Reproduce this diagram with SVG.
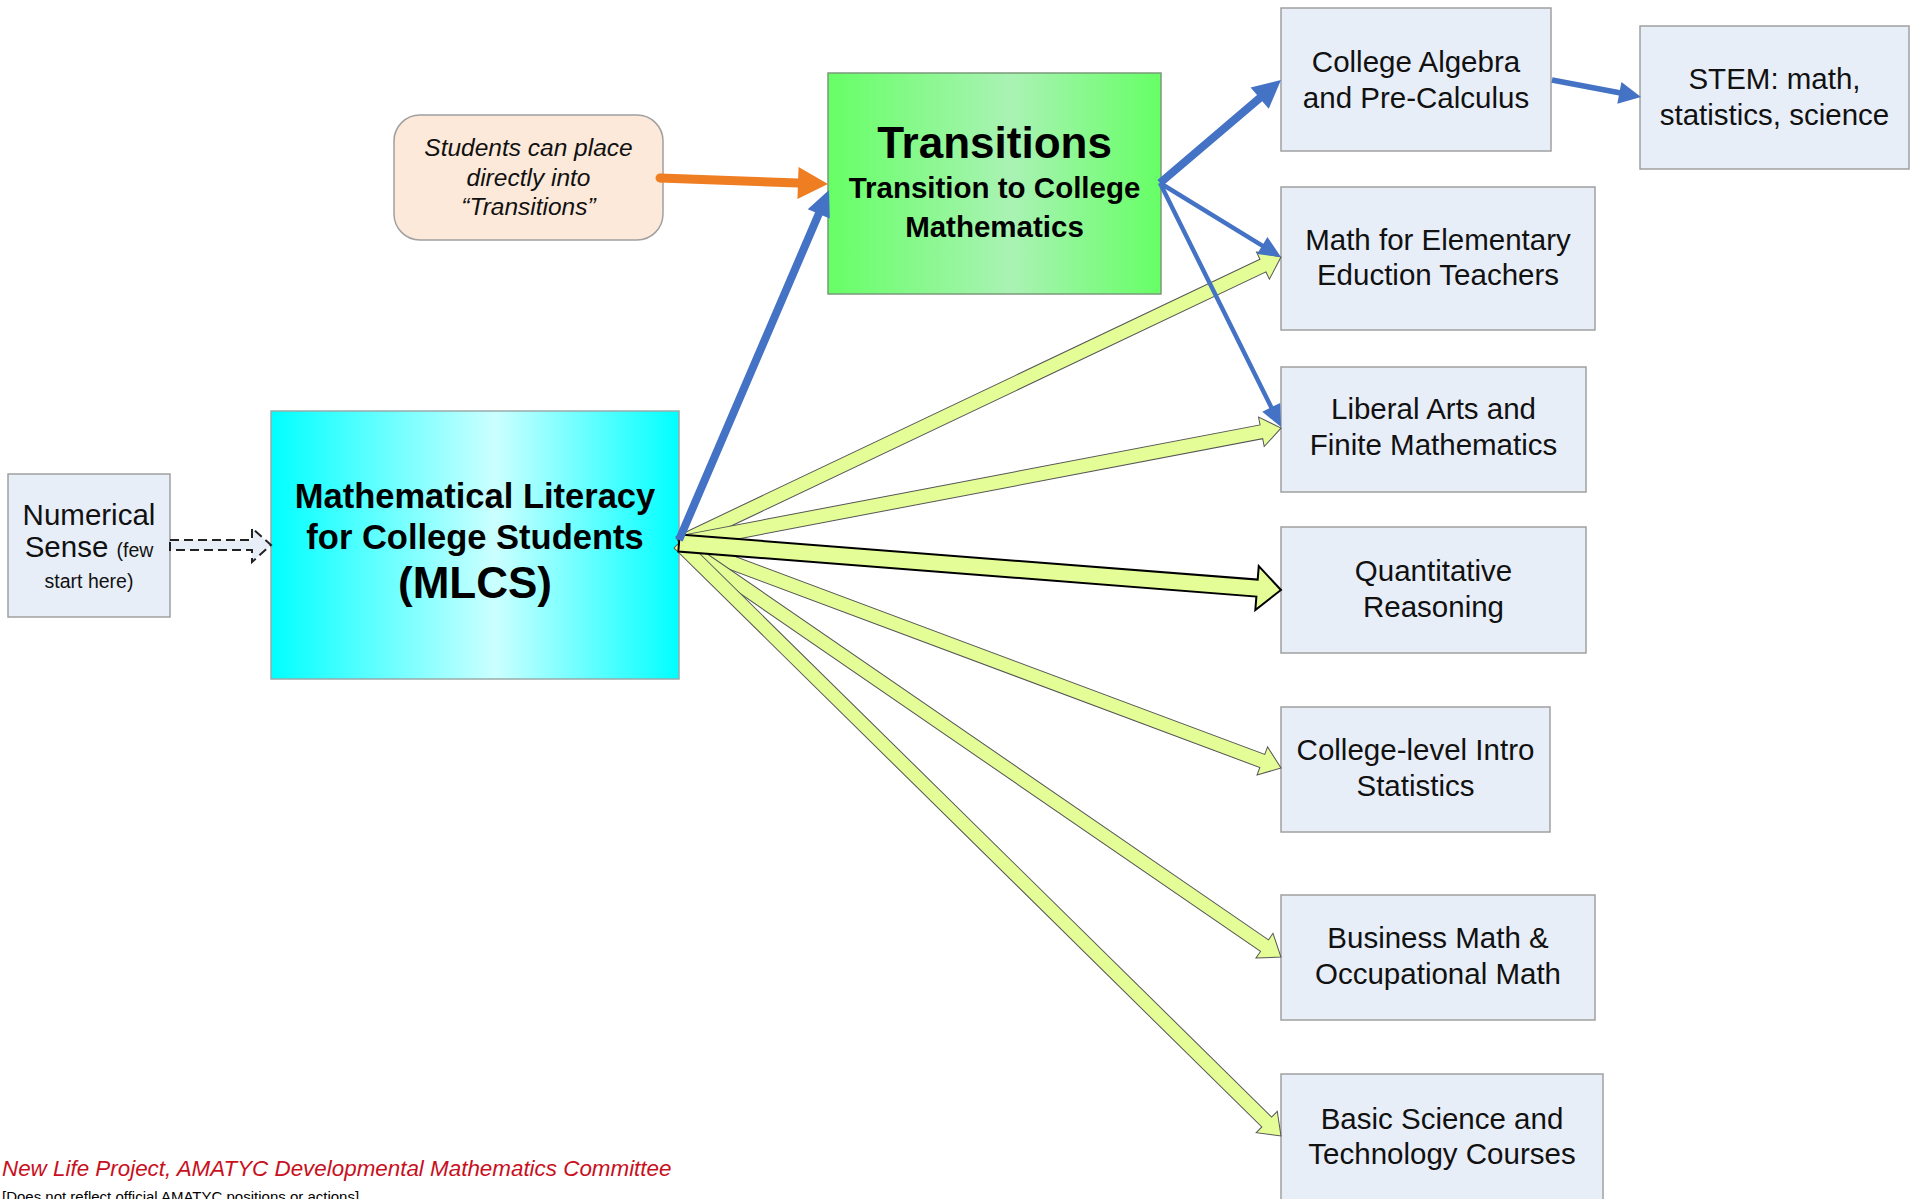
<svg xmlns="http://www.w3.org/2000/svg" width="1916" height="1199" viewBox="0 0 1916 1199">
<defs>
<linearGradient id="gCyan" x1="0" y1="0" x2="1" y2="0">
<stop offset="0" stop-color="#00ffff"/>
<stop offset="0.55" stop-color="#ccffff"/>
<stop offset="1" stop-color="#00ffff"/>
</linearGradient>
<linearGradient id="gGreen" x1="0" y1="0" x2="1" y2="0">
<stop offset="0" stop-color="#66ff66"/>
<stop offset="0.55" stop-color="#aaf2b4"/>
<stop offset="1" stop-color="#66ff66"/>
</linearGradient>
<style>
.box{fill:#e8eef8;stroke:#a0a0a0;stroke-width:1.5}
.t{font-family:"Liberation Sans",Arial,sans-serif;font-size:29.5px;fill:#111;text-anchor:middle}
.s{font-size:19.5px}
.it{font-size:24.5px;font-style:italic}
.b{font-family:"Liberation Sans",Arial,sans-serif;font-weight:bold;fill:#000;text-anchor:middle}
.b34{font-size:34.5px}
.b44{font-size:44px}
.b29{font-size:29.5px}
.yl{fill:#e4fd96;stroke:#555;stroke-width:1}
.blue{fill:#4472c4}
</style>
</defs>
<rect width="1916" height="1199" fill="#ffffff"/>

<g id="numerical-sense">
<rect class="box" x="8" y="474" width="162" height="143"/>
<text class="t" x="89" y="525">Numerical</text>
<text class="t" x="89" y="557">Sense <tspan class="s">(few</tspan></text>
<text class="t s" x="89" y="588">start here)</text>
</g>

<g id="mlcs">
<rect x="271" y="411" width="408" height="268" fill="url(#gCyan)" stroke="#9aa" stroke-width="1.5"/>
<text class="b b34" x="475" y="508">Mathematical Literacy</text>
<text class="b b34" x="475" y="549">for College Students</text>
<text class="b b44" x="475" y="598">(MLCS)</text>
</g>

<g id="students-note">
<rect x="394" y="115" width="269" height="125" rx="26" ry="26" fill="#fde9d9" stroke="#a0a0a0" stroke-width="1.5"/>
<text class="t it" x="528.5" y="156">Students can place</text>
<text class="t it" x="528.5" y="186">directly into</text>
<text class="t it" x="528.5" y="215">“Transitions”</text>
</g>

<g id="transitions">
<rect x="828" y="73" width="333" height="221" fill="url(#gGreen)" stroke="#7a9a7a" stroke-width="1.5"/>
<text class="b b44" x="994.5" y="158">Transitions</text>
<text class="b b29" x="994.5" y="198">Transition to College</text>
<text class="b b29" x="994.5" y="237">Mathematics</text>
</g>

<g id="college-algebra">
<rect class="box" x="1281" y="8" width="270" height="143"/>
<text class="t" x="1416" y="72">College Algebra</text>
<text class="t" x="1416" y="108">and Pre-Calculus</text>
</g>

<g id="stem">
<rect class="box" x="1640" y="26" width="269" height="143"/>
<text class="t" x="1774.5" y="89">STEM: math,</text>
<text class="t" x="1774.5" y="125">statistics, science</text>
</g>

<g id="math-elementary">
<rect class="box" x="1281" y="187" width="314" height="143"/>
<text class="t" x="1438" y="250">Math for Elementary</text>
<text class="t" x="1438" y="285">Eduction Teachers</text>
</g>

<g id="liberal-arts">
<rect class="box" x="1281" y="367" width="305" height="125"/>
<text class="t" x="1433.5" y="419">Liberal Arts and</text>
<text class="t" x="1433.5" y="455">Finite Mathematics</text>
</g>

<g id="quantitative">
<rect class="box" x="1281" y="527" width="305" height="126"/>
<text class="t" x="1433.5" y="581">Quantitative</text>
<text class="t" x="1433.5" y="617">Reasoning</text>
</g>

<g id="statistics">
<rect class="box" x="1281" y="707" width="269" height="125"/>
<text class="t" x="1415.5" y="760">College-level Intro</text>
<text class="t" x="1415.5" y="796">Statistics</text>
</g>

<g id="business">
<rect class="box" x="1281" y="895" width="314" height="125"/>
<text class="t" x="1438" y="948">Business Math &amp;</text>
<text class="t" x="1438" y="984">Occupational Math</text>
</g>

<g id="basic-science">
<rect class="box" x="1281" y="1074" width="322" height="135"/>
<text class="t" x="1442" y="1129">Basic Science and</text>
<text class="t" x="1442" y="1164">Technology Courses</text>
</g>

<g id="connectors">
<polygon points="170,540 252,540 252,528 271,545 252,562 252,550 170,550" fill="#e8eef8" stroke="#222" stroke-width="2" stroke-dasharray="9 5"/>

<polygon class="yl" transform="translate(679,543) rotate(-25.41)" points="0,-7 646.5,-7 646.5,-15 666.5,0 646.5,15 646.5,7 0,7"/>
<polygon class="yl" transform="translate(679,543) rotate(-10.81)" points="0,-7 592.9,-7 592.9,-15 612.9,0 592.9,15 592.9,7 0,7"/>
<polygon class="yl" transform="translate(679,543) rotate(20.49)" points="0,-7 622.7,-7 622.7,-15 642.7,0 622.7,15 622.7,7 0,7"/>
<polygon class="yl" transform="translate(679,543) rotate(34.52)" points="0,-7 710.6,-7 710.6,-15 730.6,0 710.6,15 710.6,7 0,7"/>
<polygon class="yl" transform="translate(679,543) rotate(44.57)" points="0,-7 825,-7 825,-15 845,0 825,15 825,7 0,7"/>
<polygon class="yl" style="stroke:#000;stroke-width:2" transform="translate(679,543) rotate(4.46)" points="0,-8.5 579.8,-8.5 579.8,-22 603.8,0 579.8,22 579.8,8.5 0,8.5"/>

<polygon class="blue" transform="translate(679,540) rotate(-66.80)" points="0,-4 354.8,-4 354.8,-12 380.8,0 354.8,12 354.8,4 0,4"/>
<polygon class="blue" transform="translate(1160,183) rotate(-40.41)" points="0,-4 130.9,-4 130.9,-14 158.9,0 130.9,14 130.9,4 0,4"/>
<polygon class="blue" transform="translate(1160,183) rotate(31.45)" points="0,-2.2 119.8,-2.2 119.8,-10 141.8,0 119.8,10 119.8,2.2 0,2.2"/>
<polygon class="blue" transform="translate(1160,183) rotate(63.62)" points="0,-2.2 250.4,-2.2 250.4,-10 272.4,0 250.4,10 250.4,2.2 0,2.2"/>
<polygon class="blue" transform="translate(1552,80) rotate(10.81)" points="0,-2.8 68.6,-2.8 68.6,-11 90.6,0 68.6,11 68.6,2.8 0,2.8"/>

<g transform="translate(660,178) rotate(2.05)" fill="#ef7d22">
<circle cx="0" cy="0" r="4.5"/>
<polygon points="0,-4.5 138.1,-4.5 138.1,-16 168.1,0 138.1,16 138.1,4.5 0,4.5"/>
</g>
</g>

<g id="footer">
<text x="2" y="1176" font-family="'Liberation Sans',Arial,sans-serif" font-size="22.4" font-style="italic" fill="#c8101e">New Life Project, AMATYC Developmental Mathematics Committee</text>
<text x="2" y="1202" font-family="'Liberation Sans',Arial,sans-serif" font-size="15" fill="#000">[Does not reflect official AMATYC positions or actions]</text>
</g>
</svg>
